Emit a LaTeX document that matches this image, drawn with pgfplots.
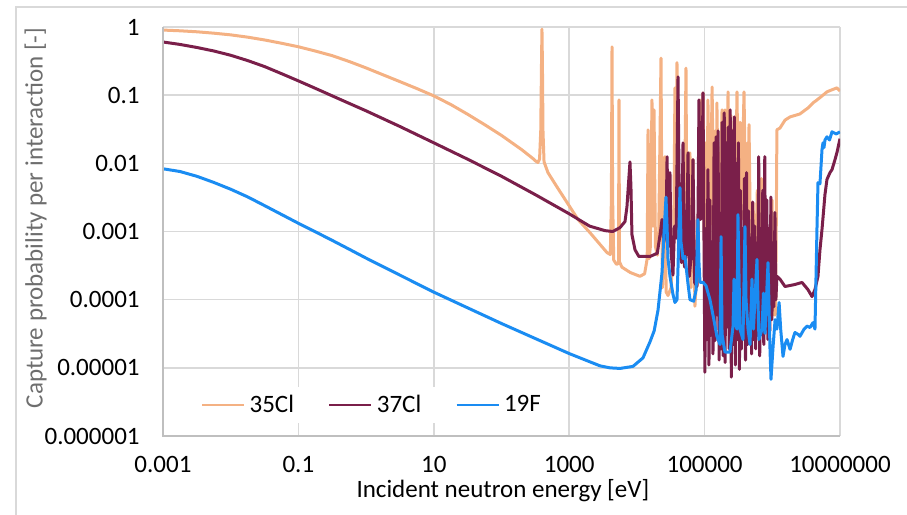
\documentclass[border=0pt]{standalone}
\usepackage{fontspec}
\setmainfont{Carlito}
\usepackage{pgfplots}
\pgfplotsset{compat=1.18}
\definecolor{clA}{HTML}{F4B183}
\definecolor{clB}{HTML}{7A1F4A}
\definecolor{flu}{HTML}{1A8CF2}
\definecolor{gridgray}{HTML}{D9D9D9}
\definecolor{axisgray}{HTML}{BFBFBF}
\definecolor{labgray}{HTML}{6E6E6E}

\begin{document}
\begin{tikzpicture}
\draw[gridgray, line width=0.6pt] (8pt,-5pt) -- (8pt,254pt) -- (470pt,254pt);
\begin{axis}[
  at={(81.5pt,39.5pt)}, anchor=south west,
  scale only axis, width=338.5pt, height=204.5pt,
  xmode=log, ymode=log,
  xmin=1e-3, xmax=1e7, ymin=1e-6, ymax=1,
  xtick={1e-3,1e-1,1e1,1e3,1e5,1e7},
  xticklabels={0.001,0.1,10,1000,100000,10000000},
  ytick={1e-6,1e-5,1e-4,1e-3,1e-2,1e-1,1},
  yticklabels={0.000001,0.00001,0.0001,0.001,0.01,0.1,1},
  xminorticks=false, yminorticks=false,
  tick style={draw=none},
  axis line style={draw=none},
  grid=major,
  major grid style={gridgray, line width=0.75pt},
  clip mode=individual,
  tick label style={font=\fontsize{12.5}{15}\selectfont, text=black},
  xticklabel style={anchor=base, inner sep=0pt, yshift=-18pt},
  yticklabel style={anchor=east, inner sep=0pt, xshift=-11.5pt},
  xlabel={Incident neutron energy [eV]},
  ylabel={Capture probability per interaction [-]},
  xlabel style={at={(axis description cs:0.502,-0.15)}, anchor=base, inner sep=0pt,
    font=\fontsize{12.5}{15}\selectfont, text=black},
  ylabel style={at={(axis description cs:-0.188,0.533)}, anchor=center, inner sep=0pt,
    font=\fontsize{12.5}{15}\selectfont, text=labgray},
  legend style={at={(axis description cs:0.31,0.076)}, anchor=center,
    legend columns=3, draw=none, fill=white,
    font=\fontsize{12.5}{15}\selectfont,
    /tikz/every even column/.append style={column sep=15pt}},
  legend image code/.code={\draw[#1, line width=1.4pt] (0pt,0pt) -- (21pt,0pt);},
  every axis plot/.append style={line width=1.5pt, line join=round, mark=none},
]
\addplot[clA] coordinates {
(1e-3,0.902) (1.78e-3,0.88) (3.16e-3,0.851) (5.62e-3,0.812) (0.01,0.767) (0.0178,0.71)
(0.0316,0.646) (0.0562,0.578) (0.1,0.513) (0.178,0.444) (0.316,0.380) (0.562,0.312)
(1,0.251) (1.78,0.199) (3.16,0.158) (5.62,0.125) (10,0.0977) (17.8,0.073) (31.6,0.0525)
(56.2,0.037) (100,0.0257) (200,0.0158) (290,0.0118) (320,0.0108)
(345,0.0103) (365,0.0115) (380,0.03) (390,0.3) (396,0.93) (402,0.3) (410,0.03)
(425,0.0105) (486,0.0073) (661,0.0045) (1350,0.0015) (2030,0.00096)
(3620,0.00049) (4050,0.00046) (4200,0.003) (4290,0.51) (4380,0.003) (4550,0.00038)
(5000,0.00033) (5350,0.00034) (5440,0.085) (5530,0.00036) (6000,0.0003) (8000,0.00025)
(1.11e4,0.00022) (1.3e4,0.00024) (1.42e4,0.0004) (1.46e4,0.031) (1.52e4,0.0004)
(1.58e4,0.0006) (1.67e4,0.085) (1.73e4,0.0012) (1.79e4,0.061) (1.88e4,0.0006)
(2.0e4,0.00045) (2.1e4,0.0009) (2.27e4,0.35) (2.38e4,0.00015) (2.5e4,0.0005)
(2.6e4,0.0125) (2.7e4,0.00013) (2.88e4,0.000115) (3.2e4,0.00015) (3.5e4,0.0008)
(3.65e4,0.128) (3.75e4,0.003) (3.91e4,0.30) (4.1e4,0.0006) (4.6e4,0.00035)
(5.0e4,0.0008) (5.31e4,0.25) (5.5e4,0.0005) (6.08e4,0.0143) (6.3e4,0.00015)
(6.74e4,0.0113) (7.2e4,0.00008) (8.0e4,0.0006) (8.55e4,0.085) (9.0e4,0.004)
(9.47e4,0.108) (1.0e5,0.00025) (1.04e5,0.02) (1.08e5,0.0005) (1.12e5,0.085)
(1.2e5,0.0006) (1.29e5,0.132) (1.38e5,0.0008) (1.44e5,0.03) (1.48e5,0.001)
(1.52e5,0.077) (1.62e5,0.0007) (1.81e5,0.061) (1.92e5,0.0008) (2.0e5,0.061)
(2.1e5,0.001) (2.22e5,0.112) (2.35e5,0.0008) (2.45e5,0.05) (2.55e5,0.001)
(2.63e5,0.031) (2.8e5,0.0007) (3.01e5,0.112) (3.2e5,0.0006) (3.35e5,0.04)
(3.5e5,0.0015) (3.82e5,0.112) (4.1e5,0.0008) (4.3e5,0.02) (4.4e5,0.0008)
(4.53e5,0.037) (4.8e5,0.0004) (5.19e5,0.00265) (5.6e5,0.0002) (6.0e5,0.004)
(6.5e5,0.00015) (6.9e5,0.006) (7.3e5,0.0002) (7.8e5,0.0029) (8.5e5,0.00012)
(9.9e5,0.0029) (1.05e6,0.00006) (1.12e6,0.00006) (1.17e6,0.031) (1.30e6,0.033)
(1.54e6,0.043) (1.83e6,0.048) (2.56e6,0.053) (3.37e6,0.065) (3.99e6,0.077)
(4.57e6,0.085) (5.61e6,0.10) (6.42e6,0.112) (7.62e6,0.12) (9.03e6,0.128) (1e7,0.115)
};
\addlegendentry{35Cl}
\addplot[clB] coordinates {
(1e-3,0.603) (1.78e-3,0.555) (3.16e-3,0.501) (5.62e-3,0.445) (0.01,0.385) (0.0178,0.322)
(0.0316,0.263) (0.0562,0.207) (0.1,0.162) (0.178,0.126) (0.316,0.0977) (0.562,0.0758)
(1,0.0589) (3.16,0.0347) (10,0.020) (31.6,0.0115) (100,0.00646) (316,0.00347)
(1000,0.00182) (2000,0.0012)
(3380,0.00103) (4400,0.001) (5630,0.00114) (6670,0.0014) (7130,0.0023)
(7640,0.0064) (7900,0.0105) (8170,0.0045) (8450,0.0009) (9370,0.00054) (1.07e4,0.00043)
(1.56e4,0.00043) (2.0e4,0.00048) (2.2e4,0.0009) (2.35e4,0.0015) (2.5e4,0.0007)
(2.7e4,0.0012) (2.79e4,0.0125) (2.92e4,0.0006) (3.08e4,0.0073) (3.2e4,0.0005)
(3.41e4,0.00023) (3.6e4,0.0012) (3.8e4,0.0008) (4.05e4,0.185) (4.3e4,0.0005)
(4.55e4,0.00035) (4.80e4,0.02) (5.05e4,0.0003) (5.45e4,0.0006) (5.69e4,0.0143)
(5.95e4,0.00022) (6.4e4,0.0005) (6.74e4,0.0113) (7.1e4,0.00018) (7.72e4,0.000156)
(8.0e4,0.002) (8.26e4,0.085) (8.7e4,0.0015) (9.1e4,0.003) (9.47e4,0.108)
(1.01e5,8.6e-6) (1.045e5,0.0011) (1.08e5,2.6e-5) (1.12e5,0.0081) (1.16e5,1.1e-5)
(1.20e5,0.0029) (1.24e5,3e-5) (1.285e5,0.0006) (1.33e5,1.6e-5) (1.38e5,0.02)
(1.425e5,2.5e-5) (1.475e5,0.0245) (1.53e5,6e-5) (1.58e5,0.03) (1.64e5,1.3e-5)
(1.69e5,0.0015) (1.75e5,1.9e-5) (1.82e5,0.04) (1.88e5,1.5e-5) (1.95e5,0.055)
(2.01e5,1.2e-5) (2.08e5,0.02) (2.16e5,4e-5) (2.23e5,0.034) (2.31e5,1.9e-5)
(2.39e5,0.061) (2.48e5,7.3e-6) (2.56e5,0.03) (2.65e5,2.2e-5) (2.75e5,0.048)
(2.84e5,1.1e-5) (2.94e5,0.01) (3.05e5,2.6e-5) (3.16e5,0.02) (3.27e5,9.5e-6)
(3.38e5,0.004) (3.50e5,1.9e-5) (3.62e5,0.0011) (3.75e5,3.5e-5) (3.88e5,0.006)
(4.02e5,1.3e-5) (4.16e5,0.0073) (4.31e5,2.2e-5) (4.46e5,0.002) (4.61e5,4e-5)
(4.78e5,0.0008) (4.94e5,1.6e-5) (5.12e5,0.0027) (5.30e5,2.6e-5) (5.48e5,0.0012)
(5.68e5,1.9e-5) (5.87e5,0.0005) (6.08e5,3e-5) (6.30e5,0.0125) (6.52e5,1.5e-5)
(6.75e5,0.0011) (6.98e5,3.1e-5) (7.23e5,0.004) (7.48e5,2.2e-5) (7.74e5,0.0125)
(8.02e5,3.7e-5) (8.30e5,0.0029) (8.59e5,2.6e-5) (8.89e5,0.0011) (9.20e5,3.5e-5)
(9.53e5,0.0032) (9.86e5,5.1e-5) (1.02e6,0.0006) (1.057e6,7.9e-5) (1.094e6,0.0019)
(1.13e6,0.0001) (1.17e6,0.00022) (1.30e6,0.0002)
(1.54e6,0.000156) (2.16e6,0.000167) (2.75e6,0.000179) (3.37e6,0.00014)
(3.86e6,0.000111) (4.27e6,0.000141) (4.73e6,0.00022) (5.06e6,0.00054)
(5.42e6,0.00107) (6.0e6,0.0035) (6.42e6,0.0058) (7.11e6,0.0073) (7.62e6,0.0081)
(8.43e6,0.0113) (9.03e6,0.0145) (1e7,0.023)
};
\addlegendentry{37Cl}
\addplot[flu] coordinates {
(1e-3,0.00832) (1.78e-3,0.00759) (3.16e-3,0.00646) (5.62e-3,0.00525) (0.01,0.00417)
(0.0178,0.00322) (0.0316,0.0024) (0.0562,0.00178) (0.1,0.00132) (0.178,0.00099)
(0.316,0.000741) (0.562,0.00055) (1,0.000407) (3.16,0.000229) (10,0.000129)
(31.6,7.59e-5) (100,4.47e-5) (316,2.69e-5) (1000,1.62e-5) (2000,1.23e-5)
(2850,1.07e-5) (4000,1.0e-5) (5630,9.8e-6)
(8750,1.05e-5) (1.23e4,1.4e-5) (1.56e4,2.4e-5) (1.8e4,3.5e-5) (2.05e4,7e-5)
(2.35e4,0.00025) (2.5e4,0.00084) (2.69e4,0.0032) (2.79e4,0.0012) (2.88e4,0.0004)
(3.08e4,0.00022) (3.41e4,0.00012) (3.65e4,9.1e-5) (3.91e4,0.0001) (4.05e4,0.0003)
(4.33e4,0.0044) (4.48e4,0.0007) (4.8e4,0.0004) (5.13e4,0.00043) (5.69e4,0.00017)
(6.08e4,0.0001) (6.9e4,9.5e-5) (7.5e4,0.00014) (7.98e4,0.00149) (8.26e4,0.00035)
(8.55e4,0.00018) (9.47e4,0.00018) (1.05e5,0.00016) (1.20e5,0.0001) (1.37e5,5.1e-5)
(1.52e5,2.9e-5) (1.69e5,2.2e-5) (1.75e5,0.00084) (1.81e5,3.1e-5) (2.0e5,1.7e-5)
(2.37e5,1.7e-5) (2.63e5,4.1e-5) (2.72e5,0.0002) (2.81e5,4.6e-5) (3.01e5,3.7e-5)
(3.11e5,0.00177) (3.33e5,3.7e-5) (3.69e5,2.6e-5) (3.95e5,0.00118) (4.09e5,0.0001)
(4.38e5,3.7e-5) (4.69e5,2.2e-5) (5.01e5,0.0002) (5.27e5,3.7e-5) (5.94e5,0.00039)
(6.35e5,2.6e-5) (7.05e5,3.7e-5) (7.41e5,0.000125) (7.8e5,3.2e-5) (8.64e5,0.00035)
(9.25e5,1.87e-5) (9.57e5,6.8e-6) (1.02e6,1.87e-5) (1.10e6,5.1e-5) (1.17e6,3.7e-5)
(1.26e6,9.1e-5) (1.33e6,3.7e-5) (1.44e6,1.47e-5) (1.54e6,2.2e-5) (1.65e6,2.6e-5)
(1.83e6,1.87e-5) (2.0e6,2.6e-5) (2.16e6,3.3e-5) (2.4e6,3.1e-5) (2.56e6,2.9e-5)
(2.95e6,3.7e-5) (3.26e6,4.1e-5) (3.6e6,3.9e-5) (3.99e6,4.6e-5) (4.27e6,3.7e-5)
(4.57e6,0.0011) (4.73e6,0.0052) (5.06e6,0.005) (5.42e6,0.0158) (5.61e6,0.02)
(5.8e6,0.017) (6.0e6,0.022) (6.42e6,0.0245) (7.0e6,0.022) (7.62e6,0.029)
(8.8e6,0.027) (1e7,0.029)
};
\addlegendentry{19F}
\draw[axisgray, line width=0.75pt] (rel axis cs:0,1) -- (rel axis cs:0,0) -- (rel axis cs:1,0);
\end{axis}
\pgfresetboundingbox
\path[use as bounding box] (0pt,0pt) rectangle (453.5pt,257.5pt);
\end{tikzpicture}
\end{document}
